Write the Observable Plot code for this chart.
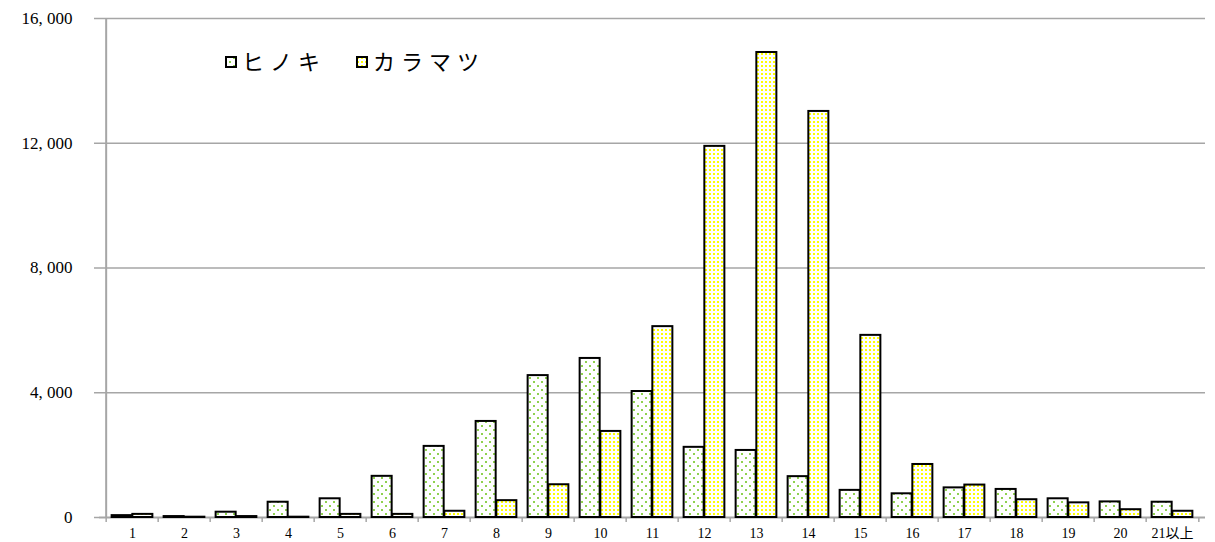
<!DOCTYPE html>
<html><head><meta charset="utf-8">
<script src="https://cdn.jsdelivr.net/npm/d3@7"></script>
<script src="https://cdn.jsdelivr.net/npm/@observablehq/plot@0.6"></script>
<style>
body{margin:0;background:#fff;}
#chart{position:relative;width:1215px;height:542px;}
</style></head>
<body><div id="chart"></div>
<script>
const categories = ["1","2","3","4","5","6","7","8","9","10","11","12","13","14","15","16","17","18","19","20","21以上"];
const seriesNames = ["ヒノキ","カラマツ"];
const hinoki =    [60,30,170,490,600,1320,2280,3080,4550,5100,4040,2250,2150,1310,870,760,950,900,600,500,490];
const karamatsu = [100,10,30,10,100,100,200,540,1050,2760,6120,11900,14910,13020,5840,1700,1040,570,470,250,200];
const yTicks = [0,4000,8000,12000,16000];

const W = 1215, H = 542, mL = 99, mR = 10, mT = 18, mB = 25;
const step = (W - mL - mR) / categories.length;
const outer = step * 0.107;

const rowsH = categories.map((c,i)=>({cat:c, sp:seriesNames[0], v:hinoki[i]}));
const rowsK = categories.map((c,i)=>({cat:c, sp:seriesNames[1], v:karamatsu[i]}));

const font = "'Liberation Serif','Noto Sans CJK JP',serif";
const grid = "#a6a6a6";

const svg = Plot.plot({
  width: W, height: H,
  marginLeft: mL, marginRight: mR, marginTop: mT, marginBottom: mB,
  style: {fontFamily: font, color: "black", background: "white"},
  x: {type: "band", domain: categories, padding: 0, label: null},
  y: {domain: [0, 16000], label: null},
  marks: [
    Plot.gridY(yTicks.slice(1), {stroke: grid, strokeOpacity: 1, strokeWidth: 1.5}),
    Plot.axisY({ticks: yTicks, tickSize: 5, tickPadding: 22, stroke: grid, strokeWidth: 1.5, label: null,
      tickFormat: d => d3.format(",")(d).replace(",", ", "), fontSize: 17, fill: "black"}),
    Plot.ruleX(categories, {x: d => d, y1: 0, y2: 0, insetBottom: -5, dx: -step/2, stroke: grid, strokeWidth: 1.5}),
    Plot.ruleX([categories[categories.length-1]], {x: d => d, y1: 0, y2: 0, insetBottom: -5, dx: step/2, stroke: grid, strokeWidth: 1.5}),
    Plot.ruleX([categories[0]], {x: d => d, dx: -step/2, stroke: grid, strokeWidth: 2}),
    Plot.ruleY([0], {stroke: grid, strokeWidth: 2}),
    Plot.barY(rowsH, {x: "cat", y: "v", fill: "url(#pH)", stroke: "black", strokeWidth: 2,
      insetLeft: outer, insetRight: step/2}),
    Plot.barY(rowsK, {x: "cat", y: "v", fill: "url(#pK)", stroke: "black", strokeWidth: 2,
      insetLeft: step/2, insetRight: outer}),
    Plot.axisX({tickSize: 0, tickPadding: 11, fontSize: 14, fill: "black", label: null})
  ]
});

const s = d3.select(svg);
const defs = s.insert("defs", ":first-child");
const pH = defs.append("pattern").attr("id","pH").attr("patternUnits","userSpaceOnUse").attr("width",8).attr("height",8);
pH.append("rect").attr("width",8).attr("height",8).attr("fill","white");
pH.append("rect").attr("x",1).attr("y",1).attr("width",2).attr("height",2).attr("fill","#8fd14f");
pH.append("rect").attr("x",5).attr("y",5).attr("width",2).attr("height",2).attr("fill","#8fd14f");
const pK = defs.append("pattern").attr("id","pK").attr("patternUnits","userSpaceOnUse").attr("width",4).attr("height",4);
pK.append("rect").attr("width",4).attr("height",4).attr("fill","white");
pK.append("rect").attr("x",1).attr("y",1).attr("width",2).attr("height",2).attr("fill","#ffff00");

// legend
const lg = s.append("g").attr("font-family", font).attr("font-size", 22).attr("text-anchor", "start");
const items = [{name: seriesNames[0], x: 226, fill: "url(#pH)"}, {name: seriesNames[1], x: 357, fill: "url(#pK)"}];
items.forEach(it => {
  lg.append("rect").attr("x", it.x).attr("y", 57).attr("width", 10).attr("height", 10)
    .attr("fill", it.fill).attr("stroke", "black").attr("stroke-width", 2);
  lg.append("text").attr("x", it.x + 16).attr("y", 70).attr("letter-spacing", 6).attr("fill", "black").text(it.name);
});

document.getElementById("chart").appendChild(svg);
</script></body></html>
